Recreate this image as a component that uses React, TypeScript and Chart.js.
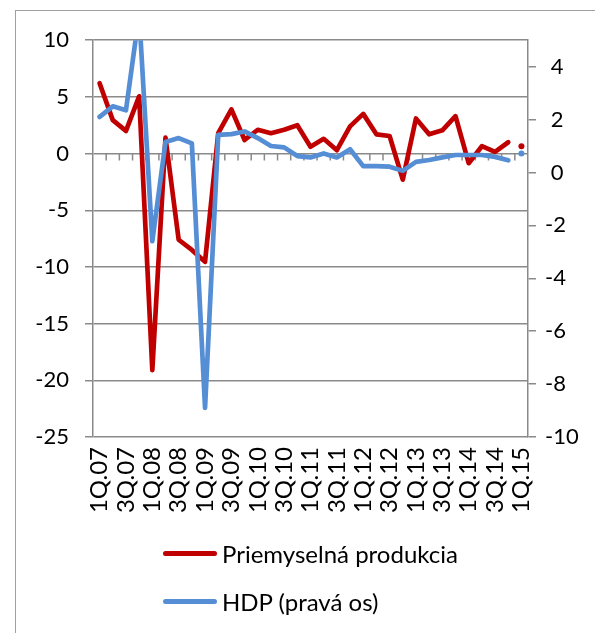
import React, { useEffect, useRef } from 'react';
import { Chart, registerables } from 'chart.js';

Chart.register(...registerables);

// ---- data ----
const QUARTERS = [
  '1Q.07', '2Q.07', '3Q.07', '4Q.07',
  '1Q.08', '2Q.08', '3Q.08', '4Q.08',
  '1Q.09', '2Q.09', '3Q.09', '4Q.09',
  '1Q.10', '2Q.10', '3Q.10', '4Q.10',
  '1Q.11', '2Q.11', '3Q.11', '4Q.11',
  '1Q.12', '2Q.12', '3Q.12', '4Q.12',
  '1Q.13', '2Q.13', '3Q.13', '4Q.13',
  '1Q.14', '2Q.14', '3Q.14', '4Q.14',
  '1Q.15',
];

const PRIEM = [
  6.2, 2.95, 2.0, 5.05, -19.1, 1.4, -7.6, -8.5, -9.55, 1.8, 3.9, 1.2, 2.1,
  1.8, 2.1, 2.5, 0.6, 1.3, 0.3, 2.4, 3.5, 1.7, 1.55, -2.3, 3.1, 1.7, 2.05,
  3.3, -0.85, 0.65, 0.15, 1.0, null,
];
const PRIEM_LAST = 0.65;

const HDP = [
  2.1, 2.5, 2.35, 6.0, -2.6, 1.15, 1.3, 1.1, -8.9, 1.42, 1.45, 1.55, 1.3,
  1.0, 0.95, 0.62, 0.57, 0.72, 0.57, 0.88, 0.24, 0.24, 0.22, 0.06, 0.4, 0.47,
  0.57, 0.66, 0.66, 0.66, 0.59, 0.46, null,
];
const HDP_LAST = 0.72;

const LEFT_TICKS = [-25, -20, -15, -10, -5, 0, 5, 10];
const RIGHT_TICKS = [-10, -8, -6, -4, -2, 0, 2, 4];

const LABEL_PRIEM = 'Priemyselná produkcia';
const LABEL_HDP = 'HDP (pravá os)';

// ---- styles ----
const RED = '#C00000';
const BLUE = '#558ED5';
const GRID = '#8a8a8a';
const FONT = 'Lato, "Open Sans", sans-serif';

const zeroTicks = {
  id: 'zeroTicks',
  beforeDatasetsDraw(chart: any) {
    const { ctx } = chart;
    const xs = chart.scales.x;
    const ys = chart.scales.y;
    const y0 = ys.getPixelForValue(0);
    ctx.save();
    ctx.strokeStyle = GRID;
    ctx.lineWidth = 1.5;
    ctx.beginPath();
    for (let i = 1; i < QUARTERS.length; i++) {
      const px = (xs.getPixelForValue(i - 1) + xs.getPixelForValue(i)) / 2;
      ctx.moveTo(px, y0);
      ctx.lineTo(px, y0 + 7);
    }
    ctx.stroke();
    ctx.restore();
  },
};

export default function App() {
  const ref = useRef<HTMLCanvasElement | null>(null);

  useEffect(() => {
    if (!ref.current) return;
    const lastOnly = (v: number) => QUARTERS.map((_, i) => (i === QUARTERS.length - 1 ? v : null));
    const chart = new Chart(ref.current, {
      type: 'line',
      data: {
        labels: QUARTERS,
        datasets: [
          {
            label: LABEL_PRIEM,
            data: PRIEM,
            yAxisID: 'y',
            borderColor: RED,
            backgroundColor: RED,
            borderWidth: 4.7,
            pointRadius: 0,
            tension: 0,
            borderJoinStyle: 'round',
            borderCapStyle: 'round',
            spanGaps: false,
            clip: 0,
            order: 2,
          },
          {
            label: LABEL_HDP,
            data: HDP,
            yAxisID: 'y1',
            borderColor: BLUE,
            backgroundColor: BLUE,
            borderWidth: 4.7,
            pointRadius: 0,
            tension: 0,
            borderJoinStyle: 'round',
            borderCapStyle: 'round',
            spanGaps: false,
            clip: 0,
            order: 1,
          },
          {
            label: 'priem-last',
            data: lastOnly(PRIEM_LAST),
            yAxisID: 'y',
            showLine: false,
            pointRadius: 3,
            pointBorderWidth: 0,
            pointBackgroundColor: RED,
            borderColor: RED,
            order: 2,
          },
          {
            label: 'hdp-last',
            data: lastOnly(HDP_LAST),
            yAxisID: 'y1',
            showLine: false,
            pointRadius: 3,
            pointBorderWidth: 0,
            pointBackgroundColor: BLUE,
            borderColor: BLUE,
            order: 1,
          },
        ],
      },
      options: {
        responsive: false,
        animation: false,
        devicePixelRatio: 1,
        layout: { padding: { top: 29, bottom: 96, left: 0, right: 0 } },
        plugins: {
          legend: { display: false },
          tooltip: { enabled: false },
        },
        scales: {
          x: {
            type: 'category',
            offset: true,
            grid: { display: false, drawTicks: false },
            border: { display: false },
            ticks: {
              autoSkip: false,
              minRotation: 90,
              maxRotation: 90,
              padding: 10,
              color: '#000',
              font: { family: FONT, size: 24 },
              callback: (_v: any, i: number) => (i % 2 === 0 ? QUARTERS[i] : ''),
            },
            afterFit: (s: any) => {
              s.height = 100;
            },
          },
          y: {
            position: 'left',
            min: -25,
            max: 10,
            afterBuildTicks: (s: any) => {
              s.ticks = LEFT_TICKS.map((v) => ({ value: v }));
            },
            grid: { color: GRID, lineWidth: 1.5, tickLength: 8, drawTicks: true },
            border: { display: true, color: GRID, width: 1.5 },
            ticks: {
              padding: 16,
              color: '#000',
              font: { family: FONT, size: 22 },
            },
            afterFit: (s: any) => {
              s.width = 77;
            },
          },
          y1: {
            position: 'right',
            min: -10,
            max: 5,
            afterBuildTicks: (s: any) => {
              s.ticks = RIGHT_TICKS.map((v) => ({ value: v }));
            },
            grid: {
              drawOnChartArea: false,
              color: GRID,
              lineWidth: 1.5,
              tickLength: 8,
              drawTicks: true,
            },
            border: { display: true, color: GRID, width: 1.5 },
            ticks: {
              padding: 9,
              color: '#000',
              font: { family: FONT, size: 22 },
              callback: (v: any) => (Number(v) >= 0 ? ' ' + v : String(v)),
            },
            afterFit: (s: any) => {
              s.width = 67;
            },
          },
        },
      },
      plugins: [zeroTicks],
    } as any);
    return () => chart.destroy();
  }, []);

  const legendItems = [
    { label: LABEL_PRIEM, color: RED },
    { label: LABEL_HDP, color: BLUE },
  ];

  return (
    <div
      style={{
        position: 'absolute',
        left: 15,
        top: 10,
        width: 580,
        height: 623,
        boxSizing: 'border-box',
        borderLeft: '1px solid #a0a0a0',
        borderTop: '1px solid #a0a0a0',
        background: '#fff',
        overflow: 'hidden',
      }}
    >
      <canvas ref={ref} width={579} height={622} style={{ display: 'block', width: 579, height: 622 }} />
      <div
        style={{
          position: 'absolute',
          left: 147,
          top: 518,
          fontFamily: FONT,
          fontSize: 24,
          color: '#000',
        }}
      >
        {legendItems.map((it) => (
          <div key={it.label} style={{ display: 'flex', alignItems: 'center', height: 48, whiteSpace: 'nowrap' }}>
            <span
              style={{
                display: 'inline-block',
                width: 54,
                height: 5,
                borderRadius: 2.5,
                background: it.color,
                marginRight: 5,
              }}
            />
            <span>{it.label}</span>
          </div>
        ))}
      </div>
    </div>
  );
}
